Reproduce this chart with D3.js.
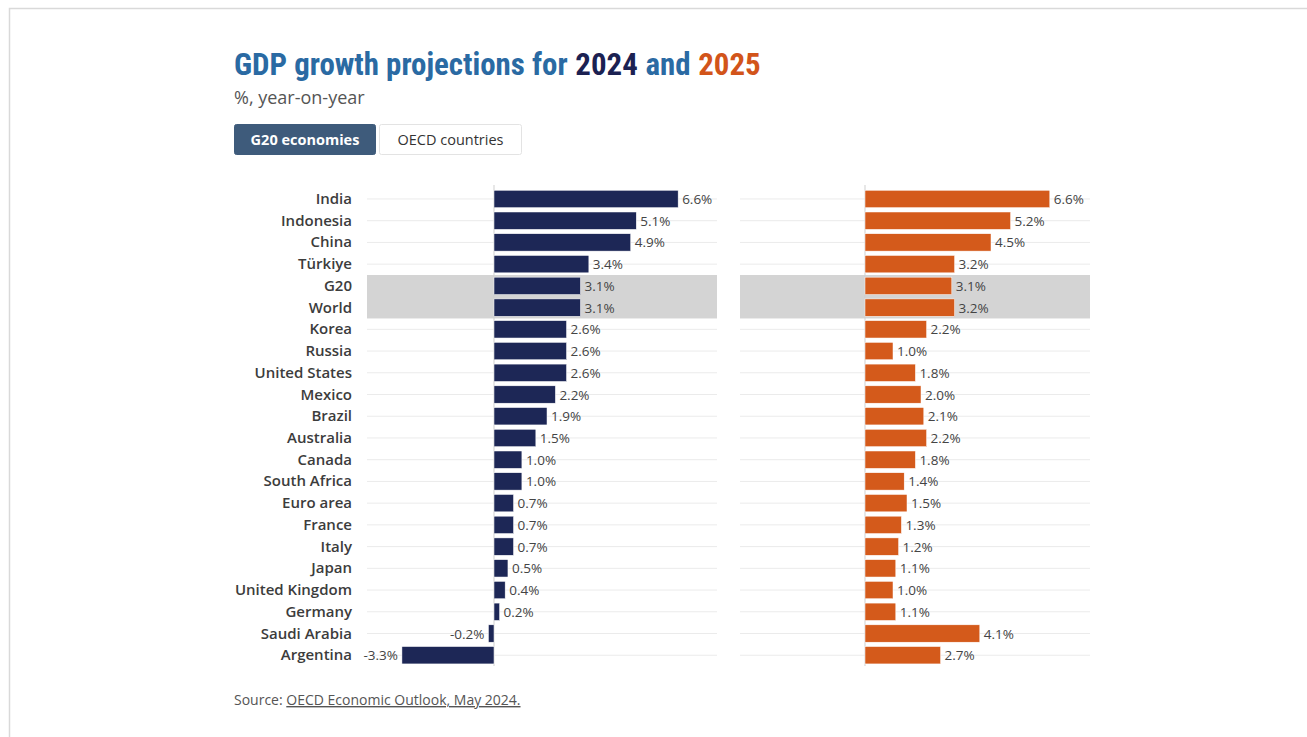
<!DOCTYPE html>
<html><head><meta charset="utf-8">
<script src="https://cdn.jsdelivr.net/npm/d3@7"></script>
<style>
body{margin:0;background:#fff;}
svg{display:block;}
</style></head>
<body>
<svg id="chart" width="1307" height="737"></svg>
<script>
const countries = ["India","Indonesia","China","Türkiye","G20","World","Korea","Russia","United States","Mexico","Brazil","Australia","Canada","South Africa","Euro area","France","Italy","Japan","United Kingdom","Germany","Saudi Arabia","Argentina"];
const growth2024 = [6.6,5.1,4.9,3.4,3.1,3.1,2.6,2.6,2.6,2.2,1.9,1.5,1.0,1.0,0.7,0.7,0.7,0.5,0.4,0.2,-0.2,-3.3];
const growth2025 = [6.6,5.2,4.5,3.2,3.1,3.2,2.2,1.0,1.8,2.0,2.1,2.2,1.8,1.4,1.5,1.3,1.2,1.1,1.0,1.1,4.1,2.7];
const highlighted = ["G20","World"];
const tabs = ["G20 economies","OECD countries"];
const titleParts = [
  {text:"GDP growth projections for", color:"#2a6aa3"},
  {text:"2024", color:"#1b2152"},
  {text:"and", color:"#2a6aa3"},
  {text:"2025", color:"#d2541a"}
];

const svg = d3.select("#chart");
const font = "'Open Sans', 'Noto Sans', sans-serif";

// card border
svg.append("path").attr("d","M9.5,737 V8.5 H1307").attr("fill","none").attr("stroke","#d9d9d9").attr("stroke-width",1.5);

// title: separate text pieces, scaled to target width
const titleFont = "'Liberation Sans Narrow', 'Roboto Condensed', 'Arial Narrow', sans-serif";
const tg = svg.append("g");
let fs = 33;
const pieces = titleParts.map(p => tg.append("text").attr("y",75).attr("font-family",titleFont)
  .attr("font-weight","bold").attr("font-size",fs).attr("fill",p.color).text(p.text));
const measure = () => {
  const sp = fs*0.25;
  return pieces.reduce((a,t)=>a+t.node().getComputedTextLength(),0) + sp*(pieces.length-1);
};
const targetW = 527;
fs = fs * targetW / measure();
pieces.forEach(t=>t.attr("font-size",fs));
let cx = 234;
pieces.forEach(t=>{ t.attr("x",cx); cx += t.node().getComputedTextLength() + fs*0.25; });

svg.append("text").attr("x",234).attr("y",104).attr("font-family",font)
  .attr("font-size",18).attr("fill","#555").text("%, year-on-year");

// tabs
const tabX = [234,379], tabW = [142,143];
tabs.forEach((t,i)=>{
  const g = svg.append("g");
  g.append("rect").attr("x",tabX[i]+0.5).attr("y",124.5).attr("width",tabW[i]-1).attr("height",30)
    .attr("rx",2).attr("fill", i===0?"#3e5b7b":"#fff").attr("stroke", i===0?"#3e5b7b":"#e3e3e3");
  g.append("text").attr("x",tabX[i]+tabW[i]/2).attr("y",145).attr("text-anchor","middle")
    .attr("font-family",font).attr("font-size",14.5).attr("font-weight", i===0?700:500)
    .attr("fill", i===0?"#fff":"#333").text(t);
});

// scales
const y = d3.scaleBand().domain(countries).range([188.1, 666.1]).paddingInner(0.2).paddingOuter(0.1);
const step = y.step();
const x1 = d3.scaleLinear().domain([0,1]).range([494, 494+27.9]);
const x2 = d3.scaleLinear().domain([0,1]).range([865, 865+28.0]);
const fmt = v => (v<0?"-":"") + d3.format(".1f")(Math.abs(v)) + "%";

const panels = [
  {x:x1, data:growth2024, color:"#1d2756", gx:[367,717]},
  {x:x2, data:growth2025, color:"#d45a1b", gx:[740,1090]}
];

panels.forEach(p=>{
  const g = svg.append("g");
  g.selectAll("line.grid").data(countries).join("line")
    .attr("x1",p.gx[0]).attr("x2",p.gx[1])
    .attr("y1",d=>y(d)+y.bandwidth()/2).attr("y2",d=>y(d)+y.bandwidth()/2)
    .attr("stroke","#ebebeb").attr("stroke-width",1);
  const hy0 = y(highlighted[0]) - (step - y.bandwidth())/2;
  const hy1 = y(highlighted[highlighted.length-1]) + y.bandwidth() + (step - y.bandwidth())/2;
  g.append("rect").attr("x",p.gx[0]).attr("y",hy0).attr("width",p.gx[1]-p.gx[0]).attr("height",hy1-hy0)
    .attr("fill","#d4d4d4");
  g.append("line").attr("x1",p.x(0)).attr("x2",p.x(0)).attr("y1",185).attr("y2",666)
    .attr("stroke","#cfcfcf").attr("stroke-width",1);
  g.selectAll("rect.bar").data(countries).join("rect").attr("class","bar")
    .attr("x",(d,i)=>Math.min(p.x(0),p.x(p.data[i])))
    .attr("width",(d,i)=>Math.abs(p.x(p.data[i])-p.x(0)))
    .attr("y",d=>y(d)).attr("height",y.bandwidth())
    .attr("fill",p.color).attr("stroke","#fff").attr("stroke-width",0.5);
  g.selectAll("text.val").data(countries).join("text")
    .attr("x",(d,i)=>p.data[i]<0 ? p.x(p.data[i])-4 : p.x(p.data[i])+4)
    .attr("y",d=>y(d)+y.bandwidth()/2+5)
    .attr("text-anchor",(d,i)=>p.data[i]<0?"end":"start")
    .attr("font-family",font).attr("font-size",13.5).attr("fill","#444")
    .text((d,i)=>fmt(p.data[i]));
});

// country labels
svg.append("g").selectAll("text").data(countries).join("text")
  .attr("x",352).attr("y",d=>y(d)+y.bandwidth()/2+5)
  .attr("text-anchor","end").attr("font-family",font).attr("font-size",15).attr("font-weight",600)
  .attr("fill","#3c3c3c").text(d=>d);

// source
const src = svg.append("text").attr("x",234).attr("y",705).attr("font-family",font)
  .attr("font-size",14).attr("fill","#555");
src.append("tspan").text("Source: ");
src.append("tspan").attr("text-decoration","underline").text("OECD Economic Outlook, May 2024.");
</script>
</body></html>
